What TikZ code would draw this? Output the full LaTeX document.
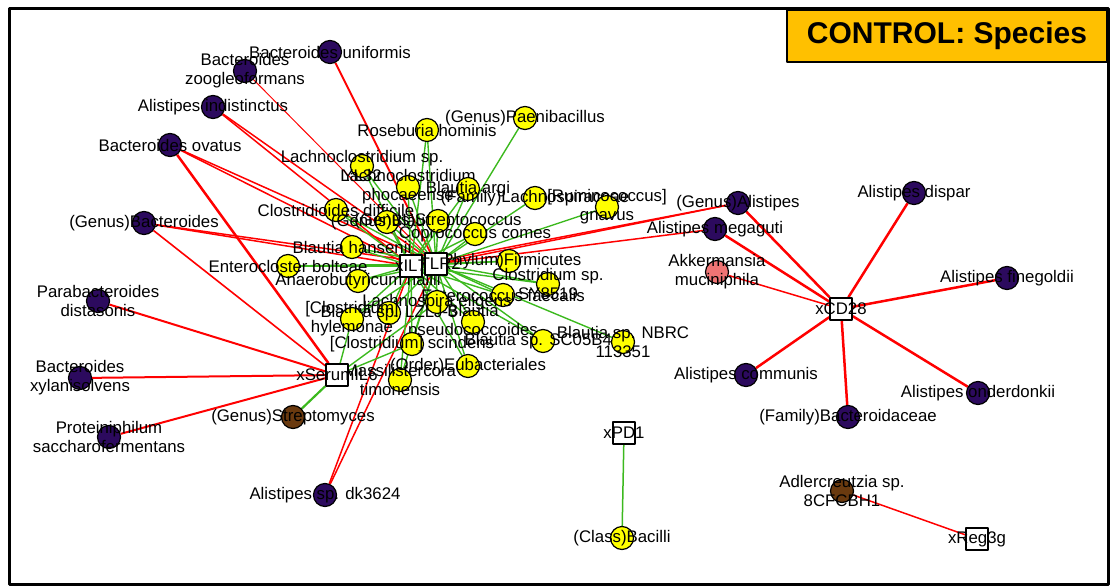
\documentclass[tikz,border=0pt]{standalone}
\usepackage{fontspec}
\setmainfont{Liberation Sans}
\usetikzlibrary{backgrounds}
\definecolor{taxpurple}{RGB}{44,10,94}
\definecolor{taxbrown}{RGB}{106,58,15}
\definecolor{taxsalmon}{RGB}{240,116,116}
\definecolor{taxyellow}{RGB}{255,255,0}
\definecolor{edgegreen}{RGB}{60,185,30}
\definecolor{titleorange}{RGB}{255,192,0}
\newcommand{\lblfont}{\fontsize{16.8}{19}\selectfont}

\begin{document}
\begin{tikzpicture}[line cap=round, line join=round, x=1pt, y=-1pt,
    taxon/.style={circle, draw=black, line width=1.2pt, fill=#1, minimum size=23pt, inner sep=0pt},
    gene/.style={rectangle, draw=black, line width=1.6pt, fill=white, minimum size=22pt, inner sep=0pt},
    lbl/.style={font=\lblfont, align=center, inner sep=0pt, text=black},
    negline/.style={draw=red, line width=#1},
    negline/.default=1.5pt,
    posline/.style={draw=edgegreen, line width=#1},
    posline/.default=1.4pt]
                \useasboundingbox (0,0) rectangle (1111,586);
                \draw[line width=3pt] (9,9) rectangle (1108,584);
                \node[draw=black, line width=1.2pt, fill=titleorange, minimum width=320pt, minimum height=52pt,
                    font=\fontsize{30}{34}\selectfont\bfseries] (title) at (947,36) {CONTROL: Species};
                % negatively linked taxa
                \node[taxon=taxpurple, label={[lbl]center:Bacteroides uniformis}] (bunif) at (330,52) {};
                \node[taxon=taxpurple, label={[lbl]center:{Bacteroides\\zoogleoformans}}] (bzoog) at (245,71) {};
                \node[taxon=taxpurple, label={[lbl]center:Alistipes indistinctus}] (aindi) at (213,107) {};
                \node[taxon=taxpurple, label={[lbl]center:Bacteroides ovatus}] (bovat) at (170,145) {};
                \node[taxon=taxpurple, label={[lbl]center:(Genus)Bacteroides}] (gbact) at (144,223) {};
                \node[taxon=taxpurple, label={[lbl]center:{Parabacteroides\\distasonis}}] (pdist) at (98,301) {};
                \node[taxon=taxpurple, label={[lbl]center:{Bacteroides\\xylanisolvens}}] (bxyla) at (80,378) {};
                \node[taxon=taxpurple, label={[lbl]center:{Proteiniphilum\\saccharofermentans}}] (psacc) at (109,437) {};
                \node[taxon=taxpurple, label={[lbl]center:Alistipes sp. dk3624}] (adk36) at (325,495) {};
                \node[taxon=taxpurple, label={[lbl]center:(Genus)Alistipes}] (galis) at (738,203) {};
                \node[taxon=taxpurple, label={[lbl]center:Alistipes megaguti}] (amega) at (715,229) {};
                \node[taxon=taxpurple, label={[lbl]center:Alistipes dispar}] (adisp) at (914,193) {};
                \node[taxon=taxpurple, label={[lbl]center:Alistipes finegoldii}] (afine) at (1007,278) {};
                \node[taxon=taxpurple, label={[lbl]center:Alistipes communis}] (acomm) at (746,375) {};
                \node[taxon=taxpurple, label={[lbl]center:(Family)Bacteroidaceae}] (fbact) at (848,417) {};
                \node[taxon=taxpurple, label={[lbl]center:Alistipes onderdonkii}] (aonde) at (978,393) {};
                \node[taxon=taxsalmon, label={[lbl]center:{Akkermansia\\muciniphila}}] (akker) at (717,272) {};
                \node[taxon=taxbrown, label={[lbl]center:(Genus)Streptomyces}] (gstrp) at (293,417) {};
                \node[taxon=taxbrown, label={[lbl]center:{Adlercreutzia sp.\\8CFCBH1}}] (adler) at (842,491) {};
                % positively linked taxa
                \node[taxon=taxyellow, label={[lbl]center:Roseburia hominis}] (rhomi) at (427,130) {};
                \node[taxon=taxyellow, label={[lbl]center:(Genus)Paenibacillus}] (gpaen) at (525,118) {};
                \node[taxon=taxyellow, label={[lbl]center:{Lachnoclostridium sp.\\YL32}}] (lyl32) at (362,166) {};
                \node[taxon=taxyellow, label={[lbl]center:{Lachnoclostridium\\phocaeense}}] (lphoc) at (408,187) {};
                \node[taxon=taxyellow, label={[lbl]center:Blautia argi}] (bargi) at (468,189) {};
                \node[taxon=taxyellow, label={[lbl]center:(Family)Lachnospiraceae}] (flach) at (535,198) {};
                \node[taxon=taxyellow, label={[lbl]center:{[Ruminococcus]\\gnavus}}] (rgnav) at (607,207) {};
                \node[taxon=taxyellow, label={[lbl]center:Clostridioides difficile}] (cdiff) at (336,210) {};
                \node[taxon=taxyellow, label={[lbl]center:(Genus)Blautia}] (gblau) at (387,222) {};
                \node[taxon=taxyellow, label={[lbl]center:(Genus)Streptococcus}] (gstre) at (438,221) {};
                \node[taxon=taxyellow, label={[lbl]center:Coprococcus comes}] (ccome) at (475,234) {};
                \node[taxon=taxyellow, label={[lbl]center:Blautia hansenii}] (bhans) at (352,247) {};
                \node[taxon=taxyellow, label={[lbl]center:Enterocloster bolteae}] (ebolt) at (288,266) {};
                \node[taxon=taxyellow, label={[lbl]center:Anaerobutyricum hallii}] (ahall) at (358,281) {};
                \node[taxon=taxyellow, label={[lbl]center:(Phylum)Firmicutes}] (pfirm) at (509,261) {};
                \node[taxon=taxyellow, label={[lbl]center:{Clostridium sp.\\SY8519}}] (csy85) at (548,284) {};
                \node[taxon=taxyellow, label={[lbl]center:Enterococcus faecalis}] (efaec) at (503,295) {};
                \node[taxon=taxyellow, label={[lbl]center:Lachnospira eligens}] (lelig) at (437,302) {};
                \node[taxon=taxyellow, label={[lbl]center:Blautia sp. LZLJ-3}] (blzlj) at (389,313) {};
                \node[taxon=taxyellow, label={[lbl]center:{[Clostridium]\\hylemonae}}] (chyle) at (352,319) {};
                \node[taxon=taxyellow, label={[lbl]center:{Blautia\\pseudococcoides}}] (bpseu) at (473,322) {};
                \node[taxon=taxyellow, label={[lbl]center:[Clostridium] scindens}] (cscin) at (412,344) {};
                \node[taxon=taxyellow, label={[lbl]center:{Massilistercora\\timonensis}}] (mtimo) at (400,380) {};
                \node[taxon=taxyellow, label={[lbl]center:(Order)Eubacteriales}] (oeuba) at (468,366) {};
                \node[taxon=taxyellow, label={[lbl]center:Blautia sp. SC05B48}] (bsc05) at (543,341) {};
                \node[taxon=taxyellow, label={[lbl]center:{Blautia sp. NBRC\\113351}}] (bnbrc) at (623,342) {};
                \node[taxon=taxyellow, label={[lbl]center:(Class)Bacilli}] (cbaci) at (622,538) {};
                % host genes
                \node[gene, label={[lbl]center:xTLR2}] (xTLR2) at (436,264) {};
                \node[gene, label={[lbl]center:xIL7}] (xIL7) at (411,266) {};
                \node[gene, label={[lbl]center:xSerumIL6}] (xSerumIL6) at (337,375) {};
                \node[gene, label={[lbl]center:xCD28}] (xCD28) at (841,309) {};
                \node[gene, label={[lbl]center:xPD1}] (xPD1) at (624,433) {};
                \node[gene, label={[lbl]center:xReg3g}] (xReg3g) at (977,539) {};
                \begin{scope}[on background layer]
                    \foreach \t in {aindi, bovat, gbact, adk36, galis}
                        {\draw[negline] (\t) -- (xIL7); \draw[negline] (\t) -- (xTLR2);}
                    \draw[negline=1.8pt] (bunif) -- (xTLR2);
                    \draw[negline=1pt] (bzoog) -- (xTLR2);
                    \draw[negline] (amega) -- (xTLR2);
                    \foreach \t in {pdist, bxyla, psacc}
                        \draw[negline=2pt] (\t) -- (xSerumIL6);
                    \draw[negline=2.5pt] (bovat) -- (xSerumIL6);
                    \draw[negline=1.6pt] (gbact) -- (xSerumIL6);
                    \foreach \t in {galis, amega, adisp, afine, acomm, fbact, aonde}
                        \draw[negline=2.5pt] (\t) -- (xCD28);
                    \draw[negline=1.5pt] (akker) -- (xCD28);
                    \draw[negline=1.5pt] (adler) -- (xReg3g);
                    \foreach \t in {rhomi, lyl32, lphoc, bargi, cdiff, gblau, gstre, ccome, bhans, ebolt, ahall, pfirm, csy85, efaec, lelig, blzlj, chyle, bpseu, cscin, mtimo, oeuba, bsc05}
                        {\draw[posline] (\t) -- (xIL7); \draw[posline] (\t) -- (xTLR2);}
                    \foreach \t in {gpaen, flach, rgnav, bnbrc}
                        \draw[posline] (\t) -- (xTLR2);
                    \foreach \t in {chyle, cscin, lelig}
                        \draw[posline] (\t) -- (xSerumIL6);
                    \draw[posline=2.2pt] (gstrp) -- (xSerumIL6);
                    \draw[posline=1.5pt] (cbaci) -- (xPD1);
                \end{scope}
            \end{tikzpicture}
\end{document}
